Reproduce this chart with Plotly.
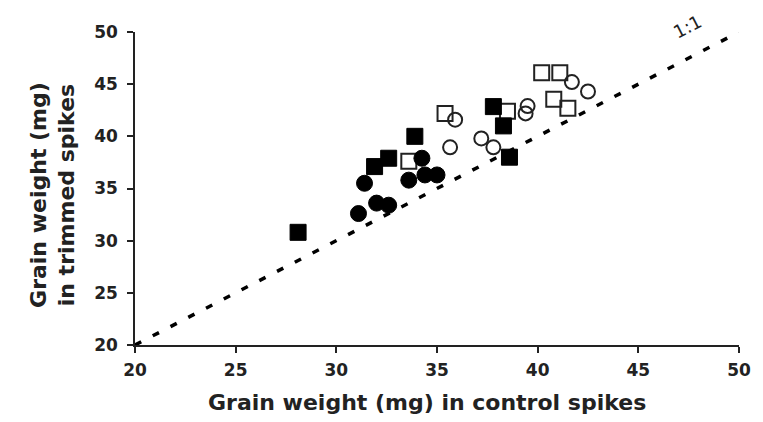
import plotly.graph_objects as go

# Data (x: control spikes, y: trimmed spikes), mg
filled_sq_x = [28.1, 31.9, 32.6, 33.9, 37.8, 38.3, 38.6]
filled_sq_y = [30.8, 37.1, 37.9, 40.0, 42.85, 41.0, 38.0]

filled_ci_x = [31.1, 31.4, 32.0, 32.6, 33.6, 34.25, 34.4, 35.0]
filled_ci_y = [32.6, 35.5, 33.6, 33.4, 35.8, 37.9, 36.3, 36.3]

open_sq_x = [33.6, 35.4, 38.5, 40.2, 41.1, 40.8, 41.5]
open_sq_y = [37.6, 42.2, 42.4, 46.1, 46.1, 43.55, 42.7]

open_ci_x = [35.9, 35.65, 37.2, 37.8, 39.5, 39.4, 41.7, 42.5]
open_ci_y = [41.6, 38.95, 39.8, 38.95, 42.9, 42.2, 45.2, 44.3]

line_x = [20, 50]
line_y = [20, 50]

tick_vals = [20, 25, 30, 35, 40, 45, 50]

FONT = "DejaVu Sans"

fig = go.Figure()

fig.add_trace(go.Scatter(
    x=line_x, y=line_y, mode="lines",
    line=dict(color="black", width=3.5, dash="7px,13px"),
    hoverinfo="skip", cliponaxis=False))

fig.add_trace(go.Scatter(
    x=open_sq_x, y=open_sq_y, mode="markers",
    marker=dict(symbol="square-open", size=15, color="#222",
                line=dict(width=2, color="#222"))))
fig.add_trace(go.Scatter(
    x=open_ci_x, y=open_ci_y, mode="markers",
    marker=dict(symbol="circle-open", size=14, color="#222",
                line=dict(width=2, color="#222"))))
fig.add_trace(go.Scatter(
    x=filled_sq_x, y=filled_sq_y, mode="markers",
    marker=dict(symbol="square", size=16, color="black",
                line=dict(width=1, color="black"))))
fig.add_trace(go.Scatter(
    x=filled_ci_x, y=filled_ci_y, mode="markers",
    marker=dict(symbol="circle", size=16, color="black",
                line=dict(width=1, color="black"))))

axis_common = dict(
    range=[20, 50], tickvals=tick_vals, ticktext=[str(v) for v in tick_vals],
    showgrid=False, zeroline=False, showline=True, linecolor="#222",
    linewidth=1.5, ticks="outside", ticklen=6, tickwidth=1.5, tickcolor="#222",
    tickfont=dict(family=FONT, size=17, color="#222", weight="bold"),
)

fig.update_xaxes(**axis_common, ticklabelstandoff=3)
fig.update_yaxes(**axis_common, ticklabelstandoff=6)

fig.add_annotation(
    x=0.483, y=-0.185, xref="paper", yref="paper",
    text="Grain weight (mg) in control spikes", showarrow=False,
    xanchor="center", yanchor="middle",
    font=dict(family=FONT, size=22, color="#222", weight="bold"))

fig.add_annotation(
    x=-0.136, y=0.479, xref="paper", yref="paper",
    text="Grain weight (mg)<br>in trimmed spikes", showarrow=False,
    textangle=-90, xanchor="center", yanchor="middle",
    font=dict(family=FONT, size=22, color="#222", weight="bold"))

fig.add_annotation(
    x=0.915, y=1.017, xref="paper", yref="paper", text="1:1", showarrow=False,
    textangle=-27, xanchor="center", yanchor="middle",
    font=dict(family=FONT, size=18, color="#222"))

# page body has an 8px margin, so the figure is shrunk by 8px to fit the window
fig.update_layout(
    width=755, height=414,
    margin=dict(l=127, r=21, t=24, b=77),
    paper_bgcolor="white", plot_bgcolor="white",
    showlegend=False,
)

fig.write_html("out.html")
